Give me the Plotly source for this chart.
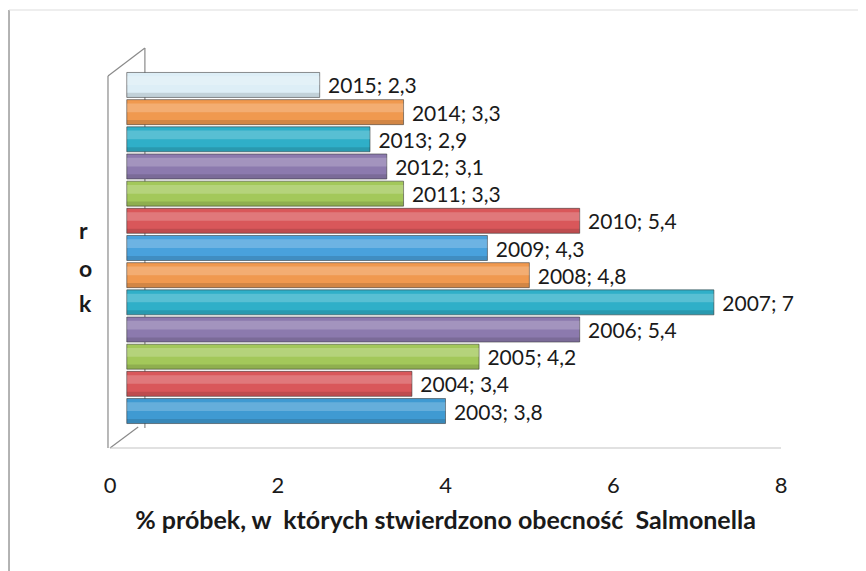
import plotly.graph_objects as go

years = ["2003", "2004", "2005", "2006", "2007", "2008", "2009",
         "2010", "2011", "2012", "2013", "2014", "2015"]
values = [3.8, 3.4, 4.2, 5.4, 7, 4.8, 4.3, 5.4, 3.3, 3.1, 2.9, 3.3, 2.3]
colors = ["#3F9AD2", "#D9575A", "#A3C85A", "#8C7AAE", "#2FAFC8", "#F0994F",
          "#49A1DC", "#D9575A", "#A3C85A", "#8C7AAE", "#2FAFC8", "#F0994F",
          "#DDEEF6"]
x_ticks = [0, 2, 4, 6, 8]
x_title = "% próbek, w  których stwierdzono obecność  Salmonella"
y_title_letters = ["r", "o", "k"]

labels = ["\u00a0" + f"{y}; " + f"{v:g}".replace(".", ",") for y, v in zip(years, values)]

FONT = "Lato, Liberation Sans, Arial, sans-serif"

fig = go.Figure()
fig.add_trace(go.Bar(
    x=values, y=years, orientation="h", width=0.92,
    marker=dict(color=colors, line=dict(color="rgba(50,50,50,0.55)", width=1)),
    text=labels, textposition="outside", cliponaxis=False, constraintext="none",
    textfont=dict(family=FONT, size=21, color="#1a1a1a"),
    xaxis="x", yaxis="y", showlegend=False,
))
# cylinder shading: light highlight band and darker lower band
fig.add_trace(go.Bar(
    x=values, y=years, orientation="h", width=0.32, offset=0.0,
    marker=dict(color="rgba(255,255,255,0.2)", line=dict(width=0)),
    xaxis="x", yaxis="y", showlegend=False, hoverinfo="skip",
))
fig.add_trace(go.Bar(
    x=values, y=years, orientation="h", width=0.16, offset=-0.45,
    marker=dict(color="rgba(0,0,0,0.12)", line=dict(width=0)),
    xaxis="x", yaxis="y", showlegend=False, hoverinfo="skip",
))
# invisible helper trace for the front (tick) axis
fig.add_trace(go.Scatter(x=[x_ticks[0], x_ticks[-1]], y=[years[0], years[0]],
                         mode="markers", marker=dict(opacity=0), xaxis="x2",
                         yaxis="y", showlegend=False, hoverinfo="skip"))

# wall / floor lines of the 3D look
line_grey = dict(color="#8a8a8a", width=1.2)
light = dict(color="#c4c4c4", width=1.2)
shapes = [
    dict(type="line", xref="paper", yref="paper", x0=-0.003, y0=0, x1=-0.003, y1=0.93, line=line_grey),
    dict(type="line", xref="paper", yref="paper", x0=-0.003, y0=0.93, x1=0.052, y1=1.0, line=line_grey),
    dict(type="line", xref="paper", yref="paper", x0=0.052, y0=1.0, x1=0.052, y1=0.05, line=line_grey, layer="below"),
    dict(type="line", xref="paper", yref="paper", x0=0.0, y0=0.0, x1=0.042, y1=0.0525, line=line_grey, layer="below"),
    dict(type="line", xref="paper", yref="paper", x0=0.0, y0=0.0, x1=1.0, y1=0.0, line=light),
    # outer frame (left and top)
    dict(type="line", xref="paper", yref="paper", x0=-0.1505, y0=-0.35, x1=-0.1505, y1=1.095, line=dict(color="#9a9a9a", width=1.5)),
    dict(type="line", xref="paper", yref="paper", x0=-0.1505, y0=1.095, x1=1.15, y1=1.095, line=dict(color="#dddddd", width=1.2)),
]

annotations = []
letter_y = [0.545, 0.45, 0.3625]
for letter, ly in zip(y_title_letters, letter_y):
    annotations.append(dict(text=f"<b>{letter}</b>", xref="paper", yref="paper",
                            x=-0.0490, y=ly, showarrow=False,
                            font=dict(family=FONT, size=23, color="#1a1a1a")))

fig.update_layout(
    width=866, height=571,
    margin=dict(l=102, r=93, t=40, b=131),
    paper_bgcolor="white", plot_bgcolor="white",
    barmode="overlay",
    font=dict(family=FONT, color="#1a1a1a"),
    xaxis=dict(range=[-0.2, 7.8], showticklabels=False, showgrid=False,
               zeroline=False, showline=False, ticks=""),
    xaxis2=dict(overlaying="x", side="bottom", range=[0, 8], tickvals=x_ticks,
                showgrid=False, zeroline=False, showline=False,
                ticks="outside", ticklen=18, tickcolor="rgba(0,0,0,0)",
                tickfont=dict(family=FONT, size=22, color="#1a1a1a"),
                title=dict(text=f"<b>{x_title}</b>", standoff=14,
                           font=dict(family=FONT, size=25, color="#1a1a1a"))),
    yaxis=dict(type="category", range=[-1.36, 13.36], showticklabels=False,
               showgrid=False, zeroline=False, showline=False, ticks=""),
    shapes=shapes,
    annotations=annotations,
)

fig.write_html("out.html")
